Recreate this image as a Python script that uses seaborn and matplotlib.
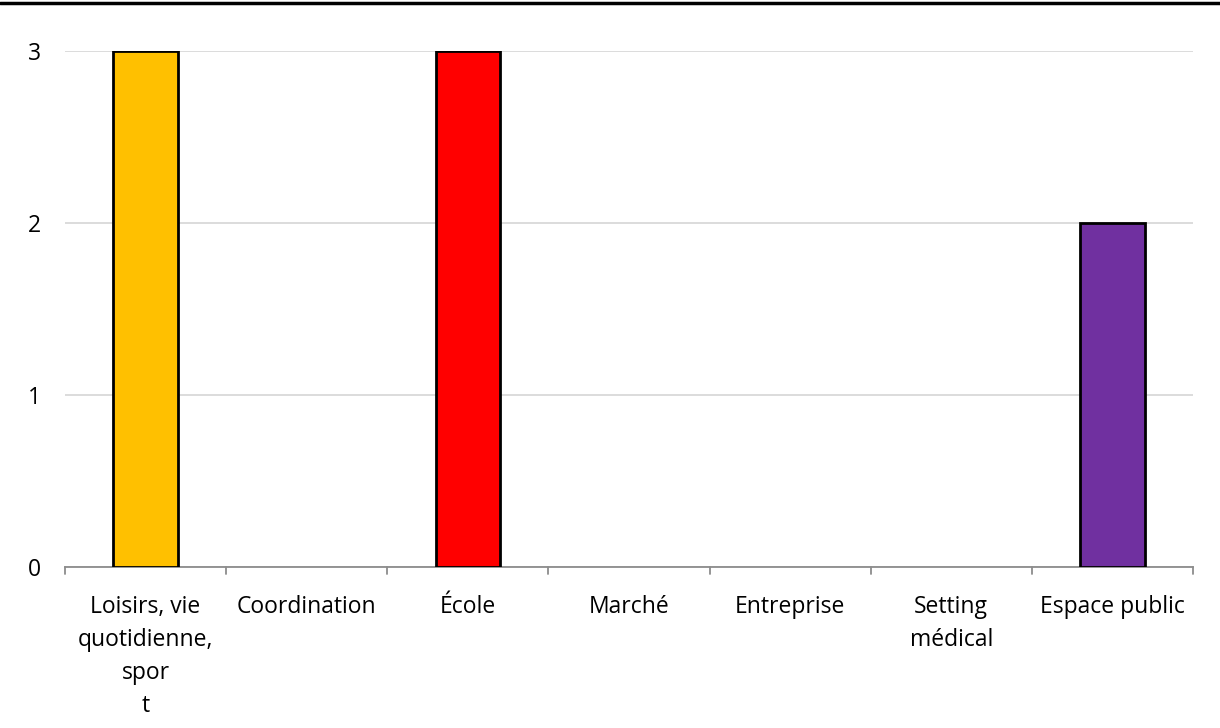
import matplotlib
matplotlib.use("Agg")
import matplotlib.pyplot as plt
import seaborn as sns
import pandas as pd
from matplotlib.lines import Line2D

categories = ["Loisirs, vie\nquotidienne,\nspor\nt", "Coordination", "École", "Marché",
              "Entreprise", "Setting\nmédical", "Espace public"]
values = [3, 0, 3, 0, 0, 0, 2]
colors = ["#FFC000", "#FFFFFF", "#FF0000", "#FFFFFF", "#FFFFFF", "#FFFFFF", "#7030A0"]
yticks = [0, 1, 2, 3]

sns.set_theme(style="white")
plt.rcParams['font.family'] = ['Open Sans', 'DejaVu Sans']
plt.rcParams['text.color'] = 'black'
plt.rcParams['xtick.color'] = 'black'
plt.rcParams['ytick.color'] = 'black'

df = pd.DataFrame({"cat": categories, "val": values})

fig = plt.figure(figsize=(12.2, 7.28), dpi=100)
ax = fig.add_axes([65/1220, 1 - 567/728, (1193-65)/1220, (567-51)/728])

sns.barplot(data=df, x="cat", y="val", hue="cat", palette=colors, legend=False,
            width=0.4, ax=ax, edgecolor="black", linewidth=2.0, saturation=1, zorder=3)
for p, v in zip(ax.patches, values):
    if v == 0:
        p.set_visible(False)

ax.set_ylim(0, 3)
ax.set_xlim(-0.5, len(categories) - 0.5)
ax.set_yticks(yticks)
ax.set_yticklabels([str(t) for t in yticks], fontsize=16.5)
ax.yaxis.grid(True, color="#D9D9D9", linewidth=1.3, zorder=0)
ax.set_axisbelow(True)
ax.set_xlabel("")
ax.set_ylabel("")
for s in ["top", "right", "left"]:
    ax.spines[s].set_visible(False)
ax.spines["bottom"].set_color("#8C8C8C")
ax.spines["bottom"].set_linewidth(1.3)
ax.tick_params(axis="y", length=0, pad=17)
ax.set_xticks(range(len(categories)))
ax.set_xticklabels(categories, fontsize=16.5, linespacing=1.5, va="top")
ax.tick_params(axis="x", length=0, pad=20)
for b in [i - 0.5 for i in range(len(categories) + 1)]:
    ax.plot([b, b], [0, -0.04], color="#8C8C8C", linewidth=1.3, clip_on=False,
            transform=ax.transData)

fig.add_artist(Line2D([0, 1], [1 - 3/728, 1 - 3/728], color="black", linewidth=2.5,
                      transform=fig.transFigure))

fig.savefig("out.png", dpi=100, facecolor="white")
